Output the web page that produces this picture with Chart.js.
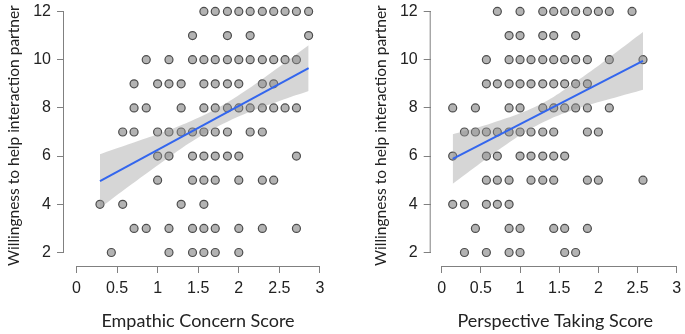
<!DOCTYPE html>
<html>
<head>
<meta charset="utf-8">
<script src="https://cdn.jsdelivr.net/npm/chart.js@4.4.0/dist/chart.umd.min.js"></script>
<style>
  html, body { margin: 0; padding: 0; background: #fff; }
  body { width: 685px; height: 334px; position: relative; overflow: hidden; }
  canvas { position: absolute; top: 0; }
</style>
</head>
<body>
<canvas id="empathic" width="340" height="334" style="left:0"></canvas>
<canvas id="perspective" width="340" height="334" style="left:345px"></canvas>
<script>
// Willingness levels (rows) and the scores observed at each level
const levels = [12, 11, 10, 9, 8, 7, 6, 5, 4, 3, 2];

const empathicScores = [
    [1.57, 1.71, 1.86, 2.00, 2.14, 2.29, 2.43, 2.57, 2.71, 2.86],
    [1.43, 1.86, 2.14, 2.86],
    [0.86, 1.14, 1.43, 1.57, 1.71, 1.86, 2.00, 2.14, 2.29, 2.43, 2.57, 2.71],
    [0.71, 1.00, 1.14, 1.29, 1.57, 1.71, 1.86, 2.00, 2.29, 2.43],
    [0.71, 0.86, 1.29, 1.57, 1.71, 1.86, 2.00, 2.14, 2.29, 2.43, 2.57, 2.71],
    [0.57, 0.71, 1.00, 1.14, 1.29, 1.43, 1.57, 1.71, 1.86, 2.14, 2.29],
    [1.00, 1.14, 1.43, 1.57, 1.71, 1.86, 2.00, 2.71],
    [1.00, 1.43, 1.57, 1.71, 2.00, 2.29, 2.43],
    [0.29, 0.57, 1.29, 1.57],
    [0.71, 0.86, 1.14, 1.43, 1.57, 1.71, 2.00, 2.29, 2.71],
    [0.43, 1.14, 1.43, 1.57, 1.71, 2.00]
];

const perspectiveScores = [
    [0.71, 1.00, 1.29, 1.43, 1.57, 1.71, 1.86, 2.00, 2.14, 2.43],
    [0.86, 1.00, 1.29, 1.43, 1.71],
    [0.57, 0.86, 1.00, 1.14, 1.29, 1.43, 1.57, 1.71, 1.86, 2.14, 2.57],
    [0.57, 0.71, 0.86, 1.00, 1.14, 1.29, 1.43, 1.57, 1.71, 1.86],
    [0.14, 0.43, 0.86, 1.00, 1.29, 1.43, 1.57, 1.71, 1.86, 2.14],
    [0.29, 0.43, 0.57, 0.71, 0.86, 1.00, 1.14, 1.29, 1.43, 1.86, 2.00],
    [0.14, 0.57, 0.71, 1.00, 1.14, 1.29, 1.43, 1.57],
    [0.57, 0.71, 0.86, 1.14, 1.29, 1.43, 1.86, 2.00, 2.57],
    [0.14, 0.29, 0.57, 0.71, 0.86],
    [0.43, 0.86, 1.00, 1.43, 1.57, 1.86],
    [0.29, 0.57, 0.86, 1.00, 1.57, 1.71]
];

// Fitted lines and 95% confidence bands
const empathicFitX = [0.29, 2.86];
const empathicFitY = [4.96, 9.65];
const empathicBandX = [0.29, 0.6, 0.9, 1.2, 1.5, 1.8, 2.1, 2.5, 2.86];
const empathicBandUpper = [6.08, 6.44, 6.79, 7.16, 7.59, 8.11, 8.75, 9.71, 10.60];
const empathicBandLower = [3.84, 4.63, 5.37, 6.10, 6.77, 7.33, 7.79, 8.29, 8.70];

const perspectiveFitX = [0.14, 2.57];
const perspectiveFitY = [5.88, 9.95];
const perspectiveBandX = [0.14, 0.45, 0.75, 1.05, 1.35, 1.65, 1.95, 2.25, 2.57];
const perspectiveBandUpper = [6.91, 7.18, 7.49, 7.84, 8.31, 8.94, 9.63, 10.36, 11.15];
const perspectiveBandLower = [4.85, 5.60, 6.31, 6.97, 7.49, 7.88, 8.19, 8.46, 8.75];

const xTickValues = [0, 0.5, 1, 1.5, 2, 2.5, 3];
const yTickValues = [2, 4, 6, 8, 10, 12];

const yTitle = 'Willingness to help interaction partner';

function toPoints(scoreRows) {
    return levels.flatMap((lvl, i) => scoreRows[i].map(s => ({ x: s, y: lvl })));
}

function pair(xs, ys) {
    return xs.map((x, i) => ({ x: x, y: ys[i] }));
}

// base-graphics style axes: the line only runs from first to last tick
const axisLines = {
    id: 'axisLines',
    afterDraw(chart) {
        const ctx = chart.ctx;
        const area = chart.chartArea;
        const xs = chart.scales.x;
        const ys = chart.scales.y;
        ctx.save();
        ctx.strokeStyle = '#808080';
        ctx.lineWidth = 1;
        ctx.beginPath();
        ctx.moveTo(xs.getPixelForValue(xTickValues[0]), area.bottom + 0.5);
        ctx.lineTo(xs.getPixelForValue(xTickValues[xTickValues.length - 1]), area.bottom + 0.5);
        ctx.moveTo(area.left - 0.5, ys.getPixelForValue(yTickValues[0]));
        ctx.lineTo(area.left - 0.5, ys.getPixelForValue(yTickValues[yTickValues.length - 1]));
        ctx.stroke();
        ctx.restore();
    }
};

const tickFont = { family: '"Liberation Sans", Arial, sans-serif', size: 16 };
const xTitleFont = { family: 'Lato, "Open Sans", sans-serif', size: 18 };
const yTitleFont = { family: 'Lato, "Open Sans", sans-serif', size: 15.5 };

function buildPanel(id, cfg) {
    return new Chart(document.getElementById(id), {
        type: 'scatter',
        data: {
            datasets: [
                {
                    type: 'line',
                    data: pair(cfg.fitX, cfg.fitY),
                    borderColor: '#3366ee',
                    borderWidth: 2,
                    pointRadius: 0,
                    fill: false,
                    order: 0
                },
                {
                    type: 'line',
                    data: pair(cfg.bandX, cfg.bandUpper),
                    borderColor: 'transparent',
                    borderWidth: 0,
                    pointRadius: 0,
                    tension: 0.4,
                    fill: '+1',
                    backgroundColor: 'rgba(153, 153, 153, 0.4)',
                    order: 1
                },
                {
                    type: 'line',
                    data: pair(cfg.bandX, cfg.bandLower),
                    borderColor: 'transparent',
                    borderWidth: 0,
                    pointRadius: 0,
                    tension: 0.4,
                    fill: false,
                    order: 1
                },
                {
                    data: toPoints(cfg.scores),
                    pointRadius: 4,
                    backgroundColor: '#b3b3b3',
                    borderColor: '#4d4d4d',
                    borderWidth: 1.2,
                    order: 2
                }
            ]
        },
        options: {
            responsive: false,
            animation: false,
            devicePixelRatio: 1,
            layout: { padding: { left: cfg.padLeft, right: cfg.padRight, top: 2, bottom: 0 } },
            plugins: {
                legend: { display: false },
                tooltip: { enabled: false }
            },
            scales: {
                x: {
                    type: 'linear',
                    min: cfg.xMin,
                    max: cfg.xMax,
                    afterBuildTicks: s => { s.ticks = xTickValues.map(v => ({ value: v })); },
                    afterFit: s => { s.height = 68; s.paddingLeft = 0; s.paddingRight = 0; },
                    ticks: {
                        font: tickFont,
                        color: '#222',
                        padding: 6,
                        autoSkip: false,
                        maxRotation: 0,
                        callback: v => String(v)
                    },
                    grid: { drawOnChartArea: false, drawTicks: true, tickLength: 7, color: '#808080' },
                    border: { display: false },
                    title: {
                        display: true,
                        text: cfg.xTitle,
                        font: xTitleFont,
                        color: '#222',
                        padding: { top: 0, bottom: 2 }
                    }
                },
                y: {
                    type: 'linear',
                    min: 1.44,
                    max: 12.26,
                    afterBuildTicks: s => { s.ticks = yTickValues.map(v => ({ value: v })); },
                    afterFit: s => { s.width = cfg.yWidth; s.paddingTop = 0; s.paddingBottom = 0; },
                    ticks: {
                        font: tickFont,
                        color: '#222',
                        padding: 6,
                        autoSkip: false,
                        callback: v => String(v)
                    },
                    grid: { drawOnChartArea: false, drawTicks: true, tickLength: 7, color: '#808080' },
                    border: { display: false },
                    title: {
                        display: true,
                        text: yTitle,
                        font: yTitleFont,
                        color: '#222',
                        padding: { top: 5, bottom: 0 }
                    }
                }
            }
        },
        plugins: [axisLines]
    });
}

buildPanel('empathic', {
    scores: empathicScores,
    fitX: empathicFitX, fitY: empathicFitY,
    bandX: empathicBandX, bandUpper: empathicBandUpper, bandLower: empathicBandLower,
    xTitle: 'Empathic Concern Score',
    padLeft: 0, padRight: 8, yWidth: 64,
    xMin: -0.153, xMax: 3.148
});

buildPanel('perspective', {
    scores: perspectiveScores,
    fitX: perspectiveFitX, fitY: perspectiveFitY,
    bandX: perspectiveBandX, bandUpper: perspectiveBandUpper, bandLower: perspectiveBandLower,
    xTitle: 'Perspective Taking Score',
    padLeft: 22, padRight: 2, yWidth: 63.7,
    xMin: -0.141, xMax: 3.04
});
</script>
</body>
</html>
